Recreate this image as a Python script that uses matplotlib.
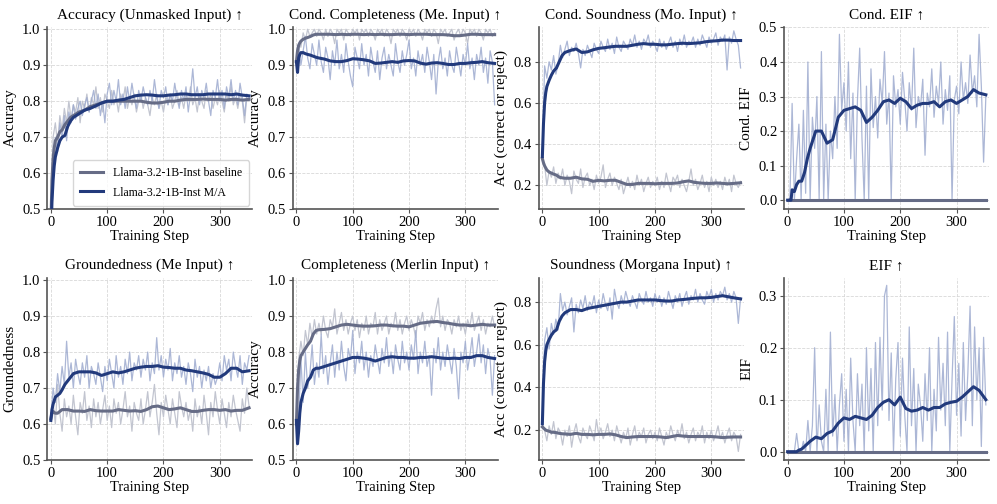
import matplotlib
matplotlib.use("Agg")
import matplotlib.pyplot as plt

plt.rcParams['font.family'] = ['Liberation Serif', 'DejaVu Serif']

# x positions of the raw (noisy) logs and of the smoothed curves
RAW_STEPS = list(range(0, 353, 4))
SMOOTH_STEPS = [0, 2, 4, 6, 8, 12, 16, 20, 25, 30, 35, 40,
                50, 60, 70, 80, 90, 100, 110, 120, 130, 140, 150,
                160, 170, 180, 190, 200, 210, 220, 230, 240, 250, 260,
                270, 280, 290, 300, 310, 320, 330, 340, 352]

TITLES = ["Accuracy (Unmasked Input) ↑", "Cond. Completeness (Me. Input) ↑",
          "Cond. Soundness (Mo. Input) ↑", "Cond. EIF ↑",
          "Groundedness (Me Input) ↑", "Completeness (Merlin Input) ↑",
          "Soundness (Morgana Input) ↑", "EIF ↑"]
YLABELS = ["Accuracy", "Accuracy", "Acc (correct or reject)", "Cond. EIF",
           "Groundedness", "Accuracy", "Acc (correct or reject)", "EIF"]
YTICKS = [[0.5, 0.6, 0.7, 0.8, 0.9, 1.0], [0.5, 0.6, 0.7, 0.8, 0.9, 1.0],
          [0.2, 0.4, 0.6, 0.8], [0.0, 0.1, 0.2, 0.3, 0.4, 0.5],
          [0.5, 0.6, 0.7, 0.8, 0.9, 1.0], [0.5, 0.6, 0.7, 0.8, 0.9, 1.0],
          [0.2, 0.4, 0.6, 0.8], [0.0, 0.1, 0.2, 0.3]]
YLIMS = [(0.5, 1.007), (0.5, 1.007), (0.085, 0.97), (-0.026, 0.502),
         (0.5, 1.007), (0.5, 1.007), (0.06, 0.915), (-0.016, 0.335)]
LABELS = ["Llama-3.2-1B-Inst baseline", "Llama-3.2-1B-Inst M/A"]

# ---- Accuracy (Unmasked Input)
acc_ma_raw = [0.42, 0.62, 0.70, 0.66, 0.74, 0.70, 0.76, 0.69, 0.77, 0.74,
              0.79, 0.75, 0.78, 0.80, 0.76, 0.79, 0.81, 0.77, 0.80, 0.83,
              0.78, 0.82, 0.76, 0.80, 0.74, 0.82, 0.85, 0.79, 0.83, 0.80,
              0.86, 0.79, 0.82, 0.78, 0.84, 0.80, 0.85, 0.81, 0.78, 0.83,
              0.80, 0.84, 0.81, 0.79, 0.83, 0.80, 0.86, 0.81, 0.78, 0.83,
              0.81, 0.84, 0.79, 0.82, 0.80, 0.85, 0.81, 0.78, 0.83, 0.80,
              0.84, 0.77, 0.82, 0.89, 0.81, 0.84, 0.79, 0.83, 0.81, 0.85,
              0.80, 0.76, 0.83, 0.81, 0.86, 0.80, 0.83, 0.78, 0.84, 0.81,
              0.86, 0.80, 0.83, 0.79, 0.85, 0.81, 0.76, 0.82, 0.81]
acc_base_raw = [0.45, 0.70, 0.74, 0.68, 0.76, 0.72, 0.78, 0.74, 0.80, 0.75,
                0.79, 0.77, 0.81, 0.74, 0.80, 0.78, 0.82, 0.77, 0.81, 0.79,
                0.84, 0.78, 0.81, 0.77, 0.82, 0.80, 0.78, 0.83, 0.79, 0.81,
                0.77, 0.82, 0.80, 0.84, 0.78, 0.81, 0.79, 0.82, 0.77, 0.80,
                0.82, 0.78, 0.81, 0.79, 0.76, 0.81, 0.79, 0.82, 0.78, 0.80,
                0.77, 0.81, 0.79, 0.82, 0.78, 0.80, 0.83, 0.79, 0.81, 0.78,
                0.82, 0.80, 0.84, 0.79, 0.81, 0.77, 0.82, 0.80, 0.78, 0.83,
                0.80, 0.82, 0.78, 0.81, 0.79, 0.83, 0.80, 0.77, 0.82, 0.80,
                0.84, 0.79, 0.81, 0.78, 0.82, 0.80, 0.74, 0.81, 0.80]
acc_ma = [0.42, 0.52, 0.58, 0.62, 0.645, 0.67, 0.69, 0.70, 0.705, 0.73, 0.745, 0.755,
          0.765, 0.775, 0.78, 0.787, 0.795, 0.80, 0.80, 0.803, 0.805, 0.81, 0.815,
          0.817, 0.818, 0.817, 0.815, 0.815, 0.817, 0.818, 0.82, 0.82, 0.818, 0.818,
          0.818, 0.82, 0.82, 0.82, 0.82, 0.818, 0.82, 0.817, 0.815]
acc_base = [0.45, 0.58, 0.64, 0.67, 0.69, 0.70, 0.715, 0.72, 0.735, 0.745, 0.755, 0.76,
            0.77, 0.775, 0.785, 0.79, 0.795, 0.80, 0.80, 0.80, 0.80, 0.80, 0.80,
            0.80, 0.797, 0.795, 0.795, 0.797, 0.80, 0.80, 0.803, 0.805, 0.805, 0.805,
            0.806, 0.805, 0.805, 0.805, 0.803, 0.805, 0.805, 0.803, 0.805]

# ---- Cond. Completeness (Me. Input)
ccomp_ma_raw = [0.91, 0.96, 0.90, 0.94, 0.98, 0.92, 0.89, 0.96, 0.93, 0.90,
                0.97, 0.91, 0.88, 0.95, 0.92, 0.86, 0.94, 0.90, 0.97, 0.89,
                0.93, 0.88, 0.96, 0.91, 0.87, 0.84, 0.95, 0.92, 0.89, 0.96,
                0.90, 0.93, 0.87, 0.95, 0.91, 0.88, 0.94, 0.86, 0.92, 0.95,
                0.89, 0.93, 0.90, 0.87, 0.96, 0.91, 0.88, 0.94, 0.90, 0.93,
                0.97, 0.89, 0.92, 0.87, 0.94, 0.90, 0.93, 0.88, 0.95, 0.91,
                0.86, 0.93, 0.82, 0.91, 0.95, 0.89, 0.92, 0.87, 0.94, 0.90,
                0.88, 0.95, 0.91, 0.87, 0.93, 0.90, 0.96, 0.89, 0.92, 0.86,
                0.93, 0.90, 0.95, 0.88, 0.92, 0.85, 0.94, 0.91, 0.79]
ccomp_base_raw = [0.91, 0.96, 0.95, 0.99, 0.97, 1.00, 0.98, 0.99, 1.00, 0.98,
                  1.00, 0.99, 0.97, 1.00, 0.98, 1.00, 0.99, 0.96, 1.00, 0.99,
                  1.00, 0.97, 1.00, 0.99, 0.98, 1.00, 0.99, 1.00, 0.97, 1.00,
                  0.99, 1.00, 0.98, 1.00, 0.99, 0.97, 1.00, 0.99, 1.00, 0.98,
                  1.00, 0.99, 0.96, 1.00, 0.99, 1.00, 0.98, 1.00, 0.99, 0.97,
                  1.00, 0.99, 1.00, 0.98, 1.00, 0.99, 0.97, 1.00, 0.99, 1.00,
                  0.98, 1.00, 0.99, 0.96, 1.00, 0.99, 1.00, 0.98, 0.99, 1.00,
                  0.97, 0.99, 1.00, 0.98, 1.00, 0.99, 0.96, 1.00, 0.99, 1.00,
                  0.98, 1.00, 0.99, 0.97, 1.00, 0.99, 1.00, 0.98, 0.99]
ccomp_ma = [0.91, 0.88, 0.92, 0.93, 0.935, 0.935, 0.932, 0.93, 0.928, 0.925, 0.922, 0.92,
            0.917, 0.912, 0.91, 0.91, 0.913, 0.918, 0.917, 0.915, 0.912, 0.905, 0.906,
            0.908, 0.91, 0.908, 0.912, 0.913, 0.912, 0.906, 0.903, 0.906, 0.907, 0.905,
            0.902, 0.902, 0.905, 0.905, 0.907, 0.908, 0.910, 0.907, 0.905]
ccomp_base = [0.91, 0.94, 0.955, 0.962, 0.967, 0.972, 0.975, 0.977, 0.98, 0.984, 0.986, 0.986,
              0.986, 0.986, 0.985, 0.986, 0.985, 0.986, 0.986, 0.985, 0.986, 0.985, 0.986,
              0.985, 0.985, 0.986, 0.986, 0.985, 0.986, 0.986, 0.986, 0.985, 0.985, 0.985,
              0.984, 0.982, 0.982, 0.984, 0.986, 0.986, 0.985, 0.985, 0.985]

# ---- Cond. Soundness (Mo. Input)
csound_ma_raw = [0.34, 0.78, 0.72, 0.80, 0.76, 0.83, 0.74, 0.79, 0.88, 0.82,
                 0.86, 0.90, 0.83, 0.87, 0.85, 0.89, 0.84, 0.77, 0.86, 0.83,
                 0.88, 0.85, 0.82, 0.89, 0.86, 0.84, 0.90, 0.87, 0.85, 0.91,
                 0.86, 0.89, 0.84, 0.92, 0.87, 0.85, 0.90, 0.88, 0.86, 0.91,
                 0.88, 0.93, 0.87, 0.90, 0.86, 0.91, 0.89, 0.93, 0.87, 0.90,
                 0.88, 0.85, 0.91, 0.87, 0.90, 0.86, 0.89, 0.92, 0.87, 0.90,
                 0.85, 0.91, 0.88, 0.93, 0.87, 0.90, 0.89, 0.92, 0.87, 0.91,
                 0.88, 0.93, 0.90, 0.87, 0.92, 0.89, 0.91, 0.94, 0.88, 0.92,
                 0.90, 0.93, 0.76, 0.92, 0.89, 0.95, 0.91, 0.88, 0.77]
csound_base_raw = [0.33, 0.30, 0.20, 0.27, 0.24, 0.29, 0.21, 0.26, 0.23, 0.28,
                   0.20, 0.25, 0.22, 0.16, 0.27, 0.23, 0.21, 0.28, 0.19, 0.24,
                   0.26, 0.20, 0.23, 0.18, 0.25, 0.21, 0.24, 0.30, 0.19, 0.23,
                   0.26, 0.20, 0.24, 0.21, 0.18, 0.23, 0.16, 0.20, 0.24, 0.19,
                   0.22, 0.18, 0.25, 0.20, 0.23, 0.17, 0.21, 0.24, 0.19, 0.22,
                   0.20, 0.24, 0.18, 0.22, 0.19, 0.26, 0.21, 0.17, 0.24, 0.22,
                   0.25, 0.19, 0.23, 0.20, 0.17, 0.22, 0.28, 0.20, 0.23, 0.18,
                   0.21, 0.25, 0.19, 0.22, 0.17, 0.24, 0.20, 0.23, 0.19, 0.22,
                   0.18, 0.24, 0.20, 0.23, 0.17, 0.25, 0.21, 0.19, 0.22]
csound_ma = [0.34, 0.50, 0.60, 0.65, 0.68, 0.71, 0.735, 0.755, 0.77, 0.80, 0.83, 0.845,
             0.855, 0.862, 0.845, 0.848, 0.858, 0.865, 0.868, 0.872, 0.875, 0.875, 0.875,
             0.88, 0.885, 0.888, 0.885, 0.885, 0.882, 0.882, 0.885, 0.888, 0.89, 0.888,
             0.89, 0.892, 0.897, 0.90, 0.902, 0.905, 0.905, 0.903, 0.903]
csound_base = [0.33, 0.31, 0.295, 0.285, 0.275, 0.265, 0.26, 0.255, 0.25, 0.24, 0.237, 0.235,
               0.235, 0.24, 0.232, 0.23, 0.22, 0.225, 0.222, 0.225, 0.225, 0.215, 0.205,
               0.205, 0.21, 0.21, 0.21, 0.208, 0.21, 0.21, 0.21, 0.212, 0.218, 0.222,
               0.215, 0.212, 0.21, 0.21, 0.212, 0.21, 0.208, 0.21, 0.213]

# ---- Cond. EIF
ceif_ma_raw = [0.00, 0.00, 0.28, 0.00, 0.12, 0.22, 0.00, 0.26, 0.02, 0.40,
               0.00, 0.24, 0.15, 0.30, 0.00, 0.43, 0.00, 0.22, 0.00, 0.20,
               0.12, 0.30, 0.15, 0.48, 0.26, 0.34, 0.20, 0.40, 0.12, 0.31,
               0.00, 0.29, 0.44, 0.18, 0.00, 0.33, 0.00, 0.38, 0.21, 0.30,
               0.18, 0.35, 0.28, 0.43, 0.22, 0.31, 0.00, 0.36, 0.27, 0.32,
               0.22, 0.37, 0.29, 0.20, 0.34, 0.26, 0.44, 0.21, 0.30, 0.27,
               0.35, 0.13, 0.31, 0.27, 0.38, 0.24, 0.33, 0.28, 0.40, 0.22,
               0.32, 0.26, 0.36, 0.00, 0.29, 0.33, 0.25, 0.40, 0.29, 0.34,
               0.28, 0.42, 0.31, 0.36, 0.27, 0.48, 0.33, 0.11, 0.30]
ceif_base_raw = None
ceif_ma = [0.0, 0.0, 0.0, 0.0, 0.03, 0.025, 0.045, 0.055, 0.055, 0.08, 0.12, 0.15,
           0.20, 0.20, 0.165, 0.175, 0.24, 0.26, 0.265, 0.27, 0.26, 0.225, 0.24,
           0.26, 0.285, 0.29, 0.28, 0.295, 0.285, 0.265, 0.275, 0.28, 0.28, 0.285,
           0.27, 0.285, 0.29, 0.28, 0.29, 0.30, 0.32, 0.31, 0.305]
ceif_base = [0.0, 0.0, 0.0, 0.0, 0.0, 0.0, 0.0, 0.0, 0.0, 0.0, 0.0, 0.0,
             0.0, 0.0, 0.0, 0.0, 0.0, 0.0, 0.0, 0.0, 0.0, 0.0, 0.0,
             0.0, 0.0, 0.0, 0.0, 0.0, 0.0, 0.0, 0.0, 0.0, 0.0, 0.0,
             0.0, 0.0, 0.0, 0.0, 0.0, 0.0, 0.0, 0.0, 0.0]

# ---- Groundedness (Me Input)
ground_ma_raw = [0.61, 0.70, 0.66, 0.74, 0.69, 0.76, 0.71, 0.83, 0.73, 0.77,
                 0.70, 0.78, 0.74, 0.71, 0.77, 0.73, 0.79, 0.70, 0.76, 0.74,
                 0.71, 0.77, 0.73, 0.69, 0.76, 0.72, 0.78, 0.74, 0.70, 0.79,
                 0.73, 0.76, 0.71, 0.78, 0.74, 0.80, 0.72, 0.77, 0.75, 0.79,
                 0.73, 0.78, 0.75, 0.80, 0.72, 0.77, 0.74, 0.84, 0.75, 0.79,
                 0.73, 0.78, 0.75, 0.81, 0.72, 0.77, 0.74, 0.79, 0.73, 0.76,
                 0.71, 0.77, 0.74, 0.69, 0.78, 0.73, 0.76, 0.70, 0.75, 0.72,
                 0.76, 0.70, 0.74, 0.71, 0.73, 0.77, 0.72, 0.79, 0.75, 0.78,
                 0.72, 0.80, 0.76, 0.73, 0.79, 0.71, 0.77, 0.75, 0.79]
ground_base_raw = [0.61, 0.66, 0.60, 0.71, 0.63, 0.58, 0.67, 0.62, 0.65, 0.60,
                   0.68, 0.62, 0.57, 0.66, 0.63, 0.69, 0.61, 0.65, 0.59, 0.67,
                   0.62, 0.66, 0.60, 0.64, 0.68, 0.61, 0.65, 0.59, 0.67, 0.63,
                   0.66, 0.60, 0.64, 0.69, 0.62, 0.65, 0.58, 0.66, 0.63, 0.61,
                   0.67, 0.60, 0.64, 0.69, 0.62, 0.66, 0.71, 0.63, 0.57, 0.66,
                   0.62, 0.68, 0.64, 0.60, 0.67, 0.63, 0.59, 0.69, 0.65, 0.62,
                   0.66, 0.61, 0.64, 0.58, 0.67, 0.62, 0.65, 0.60, 0.68, 0.63,
                   0.57, 0.66, 0.62, 0.69, 0.64, 0.60, 0.67, 0.63, 0.59, 0.66,
                   0.62, 0.68, 0.64, 0.61, 0.58, 0.67, 0.63, 0.70, 0.65]
ground_ma = [0.61, 0.64, 0.655, 0.665, 0.675, 0.68, 0.685, 0.695, 0.71, 0.72, 0.73, 0.74,
             0.745, 0.745, 0.745, 0.742, 0.735, 0.74, 0.745, 0.742, 0.745, 0.75, 0.755,
             0.758, 0.76, 0.76, 0.762, 0.758, 0.757, 0.755, 0.755, 0.75, 0.748, 0.745,
             0.742, 0.738, 0.73, 0.73, 0.74, 0.755, 0.755, 0.745, 0.748]
ground_base = [0.615, 0.63, 0.635, 0.632, 0.63, 0.63, 0.635, 0.64, 0.64, 0.64, 0.638, 0.636,
               0.636, 0.635, 0.64, 0.637, 0.636, 0.636, 0.636, 0.64, 0.638, 0.636, 0.637,
               0.635, 0.64, 0.648, 0.65, 0.645, 0.64, 0.642, 0.645, 0.64, 0.635, 0.635,
               0.638, 0.64, 0.64, 0.638, 0.64, 0.636, 0.638, 0.638, 0.645]

# ---- Completeness (Merlin Input)
comp_ma_raw = [0.61, 0.62, 0.78, 0.66, 0.80, 0.70, 0.74, 0.82, 0.71, 0.77,
               0.73, 0.85, 0.74, 0.79, 0.71, 0.77, 0.82, 0.73, 0.80, 0.75,
               0.83, 0.76, 0.72, 0.81, 0.78, 0.86, 0.74, 0.80, 0.77, 0.83,
               0.75, 0.80, 0.73, 0.79, 0.76, 0.82, 0.78, 0.74, 0.81, 0.77,
               0.84, 0.76, 0.80, 0.74, 0.82, 0.78, 0.75, 0.83, 0.77, 0.80,
               0.75, 0.82, 0.78, 0.86, 0.74, 0.80, 0.77, 0.83, 0.76, 0.79,
               0.68, 0.81, 0.77, 0.84, 0.75, 0.80, 0.76, 0.82, 0.78, 0.74,
               0.81, 0.76, 0.67, 0.80, 0.77, 0.83, 0.75, 0.79, 0.84, 0.76,
               0.80, 0.85, 0.77, 0.82, 0.74, 0.81, 0.78, 0.68, 0.79]
comp_base_raw = [0.60, 0.78, 0.83, 0.79, 0.86, 0.82, 0.88, 0.84, 0.89, 0.85,
                 0.88, 0.85, 0.90, 0.86, 0.84, 0.89, 0.87, 0.92, 0.85, 0.88,
                 0.91, 0.86, 0.89, 0.85, 0.88, 0.90, 0.86, 0.89, 0.84, 0.88,
                 0.86, 0.90, 0.85, 0.88, 0.87, 0.91, 0.85, 0.89, 0.86, 0.88,
                 0.90, 0.85, 0.88, 0.87, 0.91, 0.86, 0.89, 0.85, 0.88, 0.90,
                 0.86, 0.89, 0.87, 0.84, 0.90, 0.88, 0.91, 0.86, 0.89, 0.87,
                 0.90, 0.88, 0.92, 0.95, 0.87, 0.90, 0.86, 0.89, 0.88, 0.85,
                 0.89, 0.87, 0.90, 0.86, 0.88, 0.85, 0.89, 0.87, 0.91, 0.86,
                 0.88, 0.90, 0.86, 0.89, 0.85, 0.88, 0.87, 0.90, 0.87]
comp_ma = [0.61, 0.545, 0.58, 0.63, 0.66, 0.685, 0.70, 0.72, 0.73, 0.75, 0.755, 0.755,
           0.76, 0.765, 0.77, 0.775, 0.78, 0.785, 0.785, 0.783, 0.78, 0.775, 0.78,
           0.785, 0.787, 0.785, 0.785, 0.783, 0.783, 0.785, 0.785, 0.787, 0.785, 0.783,
           0.782, 0.783, 0.782, 0.785, 0.785, 0.79, 0.79, 0.785, 0.782]
comp_base = [0.60, 0.70, 0.75, 0.775, 0.79, 0.80, 0.81, 0.82, 0.83, 0.85, 0.86, 0.862,
             0.863, 0.865, 0.87, 0.875, 0.877, 0.875, 0.873, 0.872, 0.872, 0.873, 0.875,
             0.875, 0.873, 0.872, 0.872, 0.87, 0.875, 0.88, 0.882, 0.884, 0.885, 0.882,
             0.88, 0.877, 0.875, 0.875, 0.873, 0.875, 0.877, 0.875, 0.875]

# ---- Soundness (Morgana Input)
sound_ma_raw = [0.23, 0.62, 0.68, 0.58, 0.70, 0.65, 0.72, 0.67, 0.84, 0.76,
                0.80, 0.74, 0.78, 0.82, 0.66, 0.79, 0.75, 0.81, 0.77, 0.83,
                0.76, 0.80, 0.78, 0.83, 0.75, 0.81, 0.77, 0.84, 0.79, 0.76,
                0.82, 0.72, 0.86, 0.80, 0.77, 0.83, 0.79, 0.85, 0.81, 0.78,
                0.83, 0.80, 0.77, 0.84, 0.81, 0.79, 0.85, 0.80, 0.82, 0.78,
                0.84, 0.80, 0.83, 0.78, 0.82, 0.79, 0.85, 0.81, 0.77, 0.83,
                0.80, 0.84, 0.78, 0.82, 0.85, 0.79, 0.83, 0.81, 0.86, 0.80,
                0.84, 0.81, 0.79, 0.85, 0.82, 0.86, 0.80, 0.84, 0.81, 0.85,
                0.83, 0.87, 0.81, 0.84, 0.80, 0.85, 0.82, 0.70, 0.82]
sound_base_raw = [0.23, 0.20, 0.15, 0.22, 0.18, 0.24, 0.16, 0.21, 0.19, 0.13,
                  0.20, 0.17, 0.22, 0.12, 0.19, 0.23, 0.17, 0.14, 0.21, 0.18,
                  0.16, 0.22, 0.19, 0.15, 0.25, 0.18, 0.21, 0.16, 0.19, 0.23,
                  0.17, 0.20, 0.15, 0.22, 0.18, 0.14, 0.19, 0.16, 0.21, 0.13,
                  0.18, 0.22, 0.15, 0.19, 0.17, 0.21, 0.14, 0.18, 0.20, 0.16,
                  0.19, 0.15, 0.21, 0.17, 0.13, 0.19, 0.16, 0.22, 0.18, 0.15,
                  0.20, 0.17, 0.23, 0.16, 0.19, 0.14, 0.18, 0.21, 0.15, 0.19,
                  0.17, 0.22, 0.14, 0.19, 0.16, 0.20, 0.15, 0.18, 0.22, 0.16,
                  0.19, 0.14, 0.18, 0.21, 0.15, 0.19, 0.17, 0.10, 0.18]
sound_ma = [0.23, 0.42, 0.52, 0.57, 0.60, 0.625, 0.645, 0.66, 0.67, 0.71, 0.735, 0.75,
            0.765, 0.765, 0.76, 0.77, 0.775, 0.78, 0.785, 0.79, 0.795, 0.80, 0.80,
            0.805, 0.81, 0.81, 0.81, 0.81, 0.807, 0.805, 0.805, 0.81, 0.812, 0.815,
            0.818, 0.82, 0.82, 0.822, 0.826, 0.83, 0.825, 0.82, 0.815]
sound_base = [0.215, 0.21, 0.205, 0.20, 0.198, 0.195, 0.19, 0.19, 0.188, 0.185, 0.183, 0.182,
              0.18, 0.185, 0.18, 0.18, 0.178, 0.18, 0.18, 0.182, 0.178, 0.17, 0.165,
              0.168, 0.17, 0.17, 0.17, 0.17, 0.168, 0.165, 0.17, 0.175, 0.172, 0.17,
              0.17, 0.17, 0.17, 0.17, 0.168, 0.165, 0.167, 0.168, 0.168]

# ---- EIF
eif_ma_raw = [0.00, 0.00, 0.00, 0.00, 0.035, 0.00, 0.00, 0.02, 0.00, 0.06,
              0.00, 0.05, 0.20, 0.00, 0.09, 0.02, 0.00, 0.12, 0.00, 0.23,
              0.03, 0.11, 0.00, 0.09, 0.15, 0.02, 0.12, 0.00, 0.18, 0.06,
              0.00, 0.15, 0.05, 0.13, 0.00, 0.20, 0.04, 0.16, 0.00, 0.21,
              0.05, 0.22, 0.08, 0.30, 0.32, 0.06, 0.19, 0.00, 0.14, 0.21,
              0.03, 0.18, 0.07, 0.00, 0.24, 0.05, 0.16, 0.00, 0.13, 0.09,
              0.02, 0.15, 0.06, 0.20, 0.00, 0.12, 0.04, 0.22, 0.08, 0.17,
              0.05, 0.23, 0.00, 0.14, 0.26, 0.07, 0.17, 0.03, 0.21, 0.06,
              0.15, 0.28, 0.05, 0.24, 0.10, 0.20, 0.01, 0.22, 0.09]
eif_base_raw = None
eif_ma = [0.0, 0.0, 0.0, 0.0, 0.0, 0.0, 0.0, 0.003, 0.005, 0.01, 0.015, 0.02,
          0.028, 0.025, 0.035, 0.04, 0.055, 0.065, 0.062, 0.068, 0.065, 0.062, 0.07,
          0.085, 0.095, 0.10, 0.09, 0.105, 0.083, 0.078, 0.08, 0.085, 0.08, 0.085,
          0.085, 0.092, 0.095, 0.097, 0.105, 0.115, 0.125, 0.118, 0.10]
eif_base = [0.0, 0.0, 0.0, 0.0, 0.0, 0.0, 0.0, 0.0, 0.0, 0.0, 0.0, 0.0,
            0.0, 0.0, 0.0, 0.0, 0.0, 0.0, 0.0, 0.0, 0.0, 0.0, 0.0,
            0.0, 0.0, 0.0, 0.0, 0.0, 0.0, 0.0, 0.0, 0.0, 0.0, 0.0,
            0.0, 0.0, 0.0, 0.0, 0.0, 0.0, 0.0, 0.0, 0.0]

MA_RAW = [acc_ma_raw, ccomp_ma_raw, csound_ma_raw, ceif_ma_raw,
          ground_ma_raw, comp_ma_raw, sound_ma_raw, eif_ma_raw]
BASE_RAW = [acc_base_raw, ccomp_base_raw, csound_base_raw, ceif_base_raw,
            ground_base_raw, comp_base_raw, sound_base_raw, eif_base_raw]
MA_SMOOTH = [acc_ma, ccomp_ma, csound_ma, ceif_ma, ground_ma, comp_ma, sound_ma, eif_ma]
BASE_SMOOTH = [acc_base, ccomp_base, csound_base, ceif_base,
               ground_base, comp_base, sound_base, eif_base]

NAVY = "#223a7c"
GRAY = "#666c86"
NAVY_LIGHT = "#9eabcf"
GRAY_LIGHT = "#c2c5d0"


def draw_graph():
    fig = plt.figure(figsize=(9.97, 5.04), dpi=100)
    lefts = [0.0476, 0.2939, 0.5406, 0.7866]
    bottoms = [0.585, 0.0873]
    width, height = 0.2056, 0.362

    for i in range(8):
        ax = fig.add_axes([lefts[i % 4], bottoms[i // 4], width, height])

        # raw logs (light)
        if BASE_RAW[i] is not None:
            ax.plot(RAW_STEPS, BASE_RAW[i], color=GRAY_LIGHT, lw=0.9, zorder=2)
        ax.plot(RAW_STEPS, MA_RAW[i], color=NAVY_LIGHT, lw=0.9, alpha=0.85, zorder=2)
        # smoothed curves
        ax.plot(SMOOTH_STEPS, BASE_SMOOTH[i], color=GRAY, lw=2.2, label=LABELS[0], zorder=3)
        ax.plot(SMOOTH_STEPS, MA_SMOOTH[i], color=NAVY, lw=2.2, label=LABELS[1], zorder=4)

        ax.set_xlim(-6, 358)
        ax.set_ylim(*YLIMS[i])
        ax.set_xticks([0, 100, 200, 300])
        ax.set_yticks(YTICKS[i])
        ax.set_title(TITLES[i], fontsize=11, pad=6)
        ax.set_ylabel(YLABELS[i], fontsize=11, labelpad=4)
        ax.set_xlabel("Training Step", fontsize=10.5, labelpad=1)
        ax.tick_params(labelsize=10.5, length=3, width=0.8, color="#555555", pad=2)
        ax.grid(True, linestyle="--", color="#d8d8d8", lw=0.6, zorder=0)
        ax.set_axisbelow(True)
        for side in ["top", "right"]:
            ax.spines[side].set_visible(False)
        for side in ["left", "bottom"]:
            ax.spines[side].set_color("#555555")
            ax.spines[side].set_linewidth(1.2)

        if i == 0:
            ax.legend(loc="lower right", fontsize=8.5, frameon=True,
                      edgecolor="#cccccc", handlelength=2.0,
                      borderpad=0.6, labelspacing=0.6, borderaxespad=0.3)

    plt.savefig("out.png", dpi=100)


def main():
    draw_graph()


if __name__ == "__main__":
    main()
